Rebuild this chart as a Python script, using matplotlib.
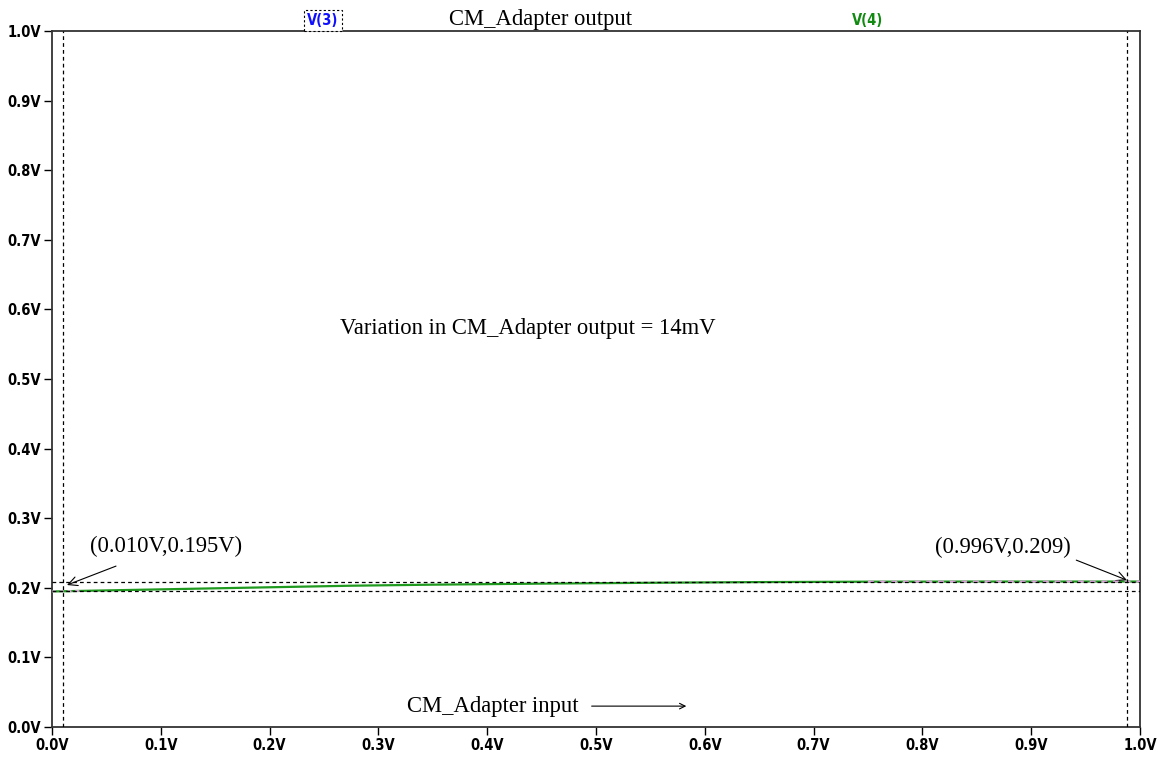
import matplotlib
matplotlib.use("Agg")
import matplotlib.pyplot as plt
import numpy as np

# data
vin = [0.0, 0.010, 0.025, 0.075, 0.125, 0.175, 0.225, 0.275, 0.35, 0.45, 0.55, 0.65, 0.75, 0.85, 0.95, 1.0]
v4 = [0.1948, 0.195, 0.1955, 0.197, 0.1985, 0.2000, 0.2015, 0.2030, 0.2045, 0.2060, 0.2072, 0.2082, 0.2088, 0.2090, 0.2090, 0.2090]
cursor_x = [0.010, 0.988]
cursor_y = [0.195, 0.209]
ticks = [0.0, 0.1, 0.2, 0.3, 0.4, 0.5, 0.6, 0.7, 0.8, 0.9, 1.0]
tick_labels = ["0.0V", "0.1V", "0.2V", "0.3V", "0.4V", "0.5V", "0.6V", "0.7V", "0.8V", "0.9V", "1.0V"]

SERIF = ["Liberation Serif", "DejaVu Serif"]

fig = plt.figure(figsize=(11.65, 7.6), dpi=100, facecolor="white")
ax = fig.add_axes([52 / 1165, 33 / 760, 1088 / 1165, 696 / 760])
ax.set_xlim(0, 1); ax.set_ylim(0, 1)

# trace V(4) (V(3) sits underneath it)
x = np.array(vin); y = np.array(v4)
ax.plot(x, y, color="#1f9a1f", lw=1.6, zorder=3)
m = x >= 0.75
ax.plot(x[m], y[m], color="#e0a0e0", lw=1.4, ls=(0, (3, 3)), zorder=4)
m0 = x <= 0.025
ax.plot(x[m0], y[m0], color="#e0a0e0", lw=1.4, ls=(0, (2, 2)), zorder=4)

# cursors
for cx in cursor_x:
    ax.axvline(cx, color="black", lw=0.9, ls=(0, (3, 2.5)), zorder=5)
for cy in cursor_y:
    ax.axhline(cy, color="black", lw=0.9, ls=(0, (3, 2.5)), zorder=5)

for s in ax.spines.values():
    s.set_linewidth(1.3); s.set_color("#333333")
ax.set_xticks(ticks); ax.set_yticks(ticks)
ax.set_xticklabels(tick_labels); ax.set_yticklabels(tick_labels)
ax.tick_params(direction="out", length=6, width=1, pad=2)
for lab in ax.get_xticklabels() + ax.get_yticklabels():
    lab.set_fontfamily("DejaVu Sans"); lab.set_fontstretch("condensed")
    lab.set_fontweight("bold"); lab.set_fontsize(10.5)

# header
ax.text(0.449, 1.016, "CM_Adapter output", transform=ax.transAxes, ha="center", va="center",
        fontsize=16.3, family=SERIF)
ax.text(0.249, 1.0145, "V(3)", transform=ax.transAxes, ha="center", va="center",
        fontsize=10.5, weight="bold", color="#1010ff", family="DejaVu Sans", stretch="condensed",
        bbox=dict(boxstyle="square,pad=0.2", fc="white", ec="black", ls=(0, (2, 2)), lw=0.8))
ax.text(0.750, 1.0145, "V(4)", transform=ax.transAxes, ha="center", va="center",
        fontsize=10.5, weight="bold", color="#108a10", family="DejaVu Sans", stretch="condensed")

# annotations
ax.text(0.265, 0.572, "Variation in CM_Adapter output = 14mV", fontsize=16.3, family=SERIF,
        ha="left", va="center")
ax.annotate("(0.010V,0.195V)", xy=(0.0138, 0.204), xytext=(0.035, 0.259), fontsize=16.3,
            family=SERIF, ha="left", va="center",
            arrowprops=dict(arrowstyle="->", color="black", lw=0.8, shrinkA=12, shrinkB=0))
ax.annotate("(0.996V,0.209)", xy=(0.988, 0.211), xytext=(0.9365, 0.258), fontsize=16.3,
            family=SERIF, ha="right", va="center",
            arrowprops=dict(arrowstyle="->", color="black", lw=0.8, shrinkA=2, shrinkB=0,
                            relpos=(1.0, 0.0)))
ax.text(0.326, 0.030, "CM_Adapter input", fontsize=16.3, family=SERIF, ha="left", va="center")
ax.annotate("", xy=(0.583, 0.030), xytext=(0.496, 0.030),
            arrowprops=dict(arrowstyle="->", color="black", lw=0.8, shrinkA=0, shrinkB=0))

fig.savefig("out.png", dpi=100, facecolor="white")
